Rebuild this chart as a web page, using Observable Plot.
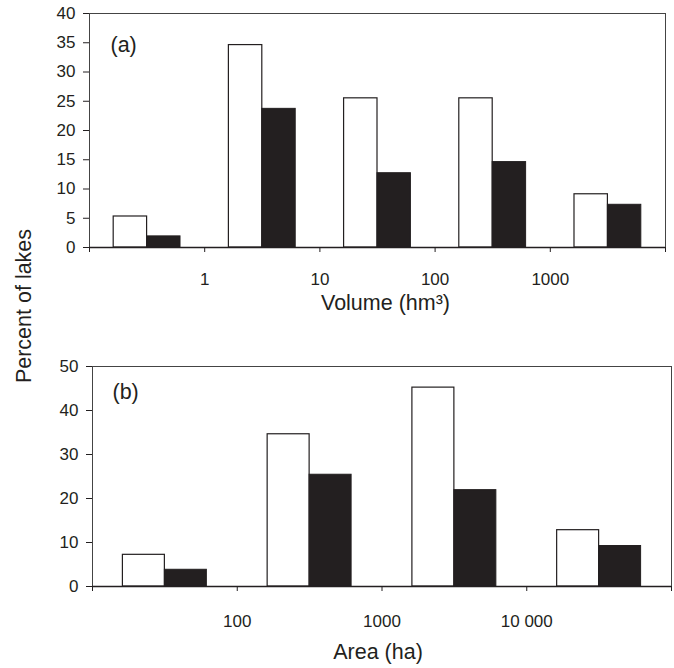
<!DOCTYPE html>
<html>
<head>
<meta charset="utf-8">
<script src="https://cdn.jsdelivr.net/npm/d3@7"></script>
<script src="https://cdn.jsdelivr.net/npm/@observablehq/plot@0.6"></script>
<style>
  html, body { margin: 0; padding: 0; background: #fff; }
  #chart { position: relative; width: 674px; height: 668px; font-family: "Liberation Sans", Arial, sans-serif; }
  #chart svg { position: absolute; left: 0; background: transparent; }
  #ylabel { position: absolute; left: 24px; top: 306px; transform: translate(-50%, -50%) rotate(-90deg); white-space: nowrap; font-size: 21.5px; color: #231f20; }
</style>
</head>
<body>
<div id="chart"><div id="ylabel">Percent of lakes</div></div>
<script>
// Panel (a): lake volume classes (hm3)
const volumeBins = [0, 1, 2, 3, 4];
const volumeWhite = [5.3, 34.6, 25.5, 25.5, 9.1];
const volumeBlack = [1.9, 23.7, 12.7, 14.6, 7.3];
const volumeTickLabels = ["1", "10", "100", "1000"];
const volumeYTicks = [0, 5, 10, 15, 20, 25, 30, 35, 40];

// Panel (b): lake area classes (ha)
const areaBins = [0, 1, 2, 3];
const areaWhite = [7.2, 34.6, 45.2, 12.8];
const areaBlack = [3.8, 25.4, 21.9, 9.2];
const areaTickLabels = ["100", "1000", "10 000"];
const areaYTicks = [0, 10, 20, 30, 40, 50];

const ink = "#231f20";
const W0 = 0.21, W1 = 0.5, W2 = 0.79;

function panel({bins, white, black, tickLabels, yTicks, yMax, title, tag, height, margins, tickPad, titleDy, titleDx, tagDx, tagDy}) {
  const rows = bins.map((b, i) => ({bin: b, white: white[i], black: black[i]}));
  return Plot.plot({
    width: 674,
    height,
    ...margins,
    style: {fontFamily: "Liberation Sans, Arial, sans-serif", fontSize: "17px", color: ink, background: "transparent"},
    x: {domain: [0, bins.length]},
    y: {domain: [0, yMax]},
    marks: [
      Plot.frame({stroke: "#444", strokeWidth: 1}),
      Plot.rect(rows, {x1: d => d.bin + W0, x2: d => d.bin + W1, y1: 0, y2: "white", fill: "white", stroke: ink, strokeWidth: 1.2}),
      Plot.rect(rows, {x1: d => d.bin + W1, x2: d => d.bin + W2, y1: 0, y2: "black", fill: ink, stroke: ink, strokeWidth: 1}),
      Plot.ruleY([0], {stroke: ink, strokeWidth: 1.5}),
      Plot.axisX({ticks: d3.range(0, bins.length + 1), tickSize: 5, tickPadding: tickPad,
        tickFormat: i => (i >= 1 && i <= tickLabels.length) ? tickLabels[i - 1] : "", label: null,
        fontSize: 17, fill: ink, stroke: ink}),
      Plot.axisY({ticks: yTicks, tickSize: 6, tickPadding: 8, label: null, fontSize: 17, fill: ink, stroke: ink}),
      Plot.text([tag], {frameAnchor: "top-left", textAnchor: "start", lineAnchor: "middle", dx: tagDx, dy: tagDy, fontSize: 21.5, fill: ink}),
      Plot.text([title], {frameAnchor: "bottom", textAnchor: "middle", lineAnchor: "middle", dx: titleDx, dy: titleDy, fontSize: 21.5, fill: ink})
    ]
  });
}

const chart = document.getElementById("chart");

const a = panel({
  bins: volumeBins, white: volumeWhite, black: volumeBlack, tickLabels: volumeTickLabels,
  yTicks: volumeYTicks, yMax: 40, title: "Volume (hm³)", tag: "(a)",
  height: 320, margins: {marginLeft: 89, marginRight: 9, marginTop: 13, marginBottom: 73},
  tickPad: 20, titleDx: 8, titleDy: 56, tagDx: 21, tagDy: 32
});
a.style.top = "0px";
chart.appendChild(a);

const b = panel({
  bins: areaBins, white: areaWhite, black: areaBlack, tickLabels: areaTickLabels,
  yTicks: areaYTicks, yMax: 50, title: "Area (ha)", tag: "(b)",
  height: 338, margins: {marginLeft: 92, marginRight: 3, marginTop: 36, marginBottom: 82},
  tickPad: 23, titleDx: -4, titleDy: 66, tagDx: 20, tagDy: 26
});
b.style.top = "330px";
chart.appendChild(b);
</script>
</body>
</html>
